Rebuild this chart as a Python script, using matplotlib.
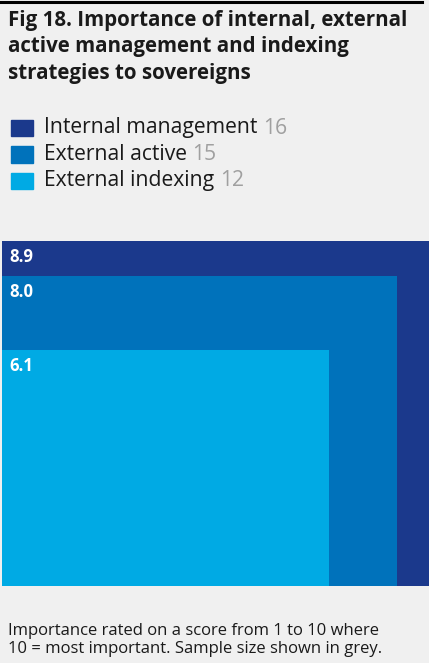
import matplotlib.pyplot as plt
from matplotlib.lines import Line2D

# data
labels = ["Internal management", "External active", "External indexing"]
scores = [8.9, 8.0, 6.1]
sample = [16, 15, 12]
colors = ["#1b398c", "#0072bb", "#00aae4"]

bg = "#f0f0f0"
fig = plt.figure(figsize=(4.29, 6.63), dpi=100, facecolor=bg)
W, H = 429, 663

# top rule
fig.add_artist(Line2D([0, 422 / W], [1 - 1.5 / H, 1 - 1.5 / H], color="black", lw=2.2,
                      transform=fig.transFigure))

fig.text(8 / W, 1 - 10 / H,
         "Fig 18. Importance of internal, external\nactive management and indexing\nstrategies to sovereigns",
         ha="left", va="top", fontsize=14.8, fontweight="bold", family="Open Sans",
         color="#1a1a1a", linespacing=1.34)

# legend
for i, (lab, n, c) in enumerate(zip(labels, sample, colors)):
    yc = 1 - (128 + i * 26.5) / H
    fig.patches.append(plt.Rectangle((11 / W, yc - 8 / H), 22 / W, 16 / H, color=c,
                                     transform=fig.transFigure, figure=fig))
    t = fig.text(44 / W, yc, lab + " ", ha="left", va="center", fontsize=15.2,
                 family="Open Sans", color="#1a1a1a")
    fig.canvas.draw()
    bb = t.get_window_extent()
    fig.text(bb.x1 / W, yc, str(n), ha="left", va="center", fontsize=15.2,
             family="Open Sans", color="#a0a0a0")

# nested rectangles
ax = fig.add_axes([2 / W, 77 / H, 427 / W, 345 / H])
ax.set_facecolor(bg)
x0 = -3.0
ax.set_xlim(x0, max(scores))
ax.set_ylim(0, max(scores))
for s, c in zip(scores, colors):
    ax.bar(x0, s, width=s - x0, align="edge", color=c, linewidth=0)
    ax.text(x0 + 0.21, s - 0.42, f"{s:.1f}", ha="left", va="center", color="white",
            fontsize=12, fontweight="bold", family="Open Sans")
ax.axis("off")

fig.text(8 / W, 1 - 623 / H,
         "Importance rated on a score from 1 to 10 where\n10 = most important. Sample size shown in grey.",
         ha="left", va="top", fontsize=12, family="Open Sans", color="#1a1a1a",
         linespacing=1.18)

fig.savefig("out.png", dpi=100, facecolor=bg)
